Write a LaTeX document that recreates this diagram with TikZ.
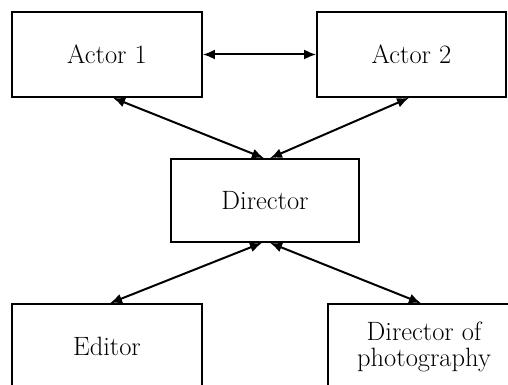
\documentclass[tikz,border=0pt]{standalone}
\usetikzlibrary{arrows.meta,calc}
\begin{document}
\begin{tikzpicture}[x=1pt,y=-1pt,
  box/.style={draw,line width=1.7pt,inner sep=0pt,align=center,
    font=\fontsize{26.5}{26}\selectfont},
  link/.style={line width=2pt,{Latex[length=12pt,width=10pt]}-{Latex[length=12pt,width=10pt]}}]
\useasboundingbox (0,0) rectangle (508,385);
\clip (0,0) rectangle (508,385);
\node[box,minimum width=190pt,minimum height=85pt] (a1) at (107,54.5) {Actor 1};
\node[box,minimum width=189pt,minimum height=85pt] (a2) at (411.5,54.5) {Actor 2};
\node[box,minimum width=188pt,minimum height=83pt] (dir) at (265,200.5) {Director};
\node[box,minimum width=190pt,minimum height=85pt] (ed) at (107,346.5) {Editor};
\node[box,minimum width=192pt,minimum height=85pt] (dop) at (424,346.5) {Director of\\photography};
\draw[link] (a1.east) -- (a2.west);
\draw[link] ([xshift=6pt]a1.south) -- ([xshift=-1pt]dir.north);
\draw[link] ([xshift=-2.5pt]a2.south) -- ([xshift=5pt]dir.north);
\draw[link] ([xshift=-3pt]dir.south) -- ([xshift=3pt]ed.north);
\draw[link] ([xshift=5pt]dir.south) -- ([xshift=-3pt]dop.north);
\end{tikzpicture}
\end{document}
